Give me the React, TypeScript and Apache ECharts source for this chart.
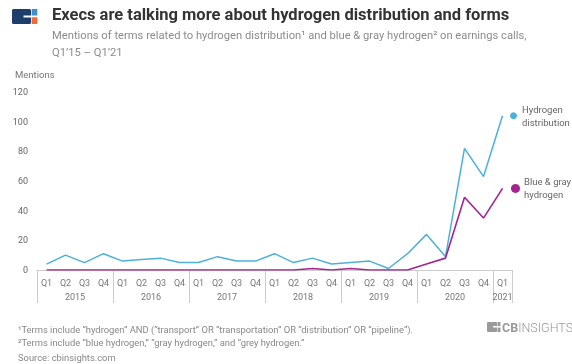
import React, { useEffect, useRef } from "react";
import * as echarts from "echarts";

const quarters = ["Q1","Q2","Q3","Q4","Q1","Q2","Q3","Q4","Q1","Q2","Q3","Q4","Q1","Q2","Q3","Q4","Q1","Q2","Q3","Q4","Q1","Q2","Q3","Q4","Q1"];
const years = ["2015","2015","2015","2015","2016","2016","2016","2016","2017","2017","2017","2017","2018","2018","2018","2018","2019","2019","2019","2019","2020","2020","2020","2020","2021"];
const hydrogenDistribution = [4,10,5,11, 6,7,8,5, 5,9,6,6, 11,5,8,4, 5,6,1,11, 24,9,82,63, 104];
const blueGrayHydrogen = [0,0,0,0, 0,0,0,0, 0,0,0,0, 0,0,1,0, 1,0,0,0, 4,8,49,35, 55];
const yTicks = { min: 0, max: 120, interval: 20 };

const BLUE = "#4cb1d9";
const MAGENTA = "#a3238f";
const FONT = "Roboto";

export default function App() {
  const ref = useRef<HTMLDivElement>(null);
  useEffect(() => {
    if (!ref.current) return;
    const chart = echarts.init(ref.current, null, { renderer: "svg" });
    const last = quarters.length - 1;
    chart.setOption({
      animation: false,
      textStyle: { fontFamily: FONT },
      title: {
        left: 52,
        top: 4,
        padding: 0,
        text: "Execs are talking more about hydrogen distribution and forms",
        textStyle: { fontSize: 16.5, fontWeight: "bold", color: "#333", lineHeight: 20, fontFamily: FONT },
        subtext: "Mentions of terms related to hydrogen distribution\u00b9 and blue & gray hydrogen\u00b2 on earnings calls,\nQ1\u201915 \u2013 Q1\u201921",
        subtextStyle: { fontSize: 11.2, color: "#8c8c8c", lineHeight: 17, fontFamily: FONT },
        itemGap: 2.5,
      },
      grid: { left: 37, right: 60, top: 92, bottom: 94 },
      xAxis: [
        {
          type: "category",
          data: quarters,
          boundaryGap: true,
          axisLine: { show: true, lineStyle: { color: "#cccccc", width: 1 } },
          axisTick: {
            show: true,
            interval: (i: number) => i % 4 === 0 || i === last,
            length: 33,
            lineStyle: { color: "#cccccc" },
          },
          axisLabel: { interval: 0, color: "#777", fontSize: 9, margin: 8 },
        },
        {
          type: "category",
          data: years,
          position: "bottom",
          boundaryGap: true,
          axisLine: { show: false },
          axisTick: { show: false },
          axisLabel: {
            interval: (i: number) => i % 4 === 1 || i === last,
            margin: 22,
            color: "#777",
            fontSize: 9,
            formatter: (v: string, i: number) => (i === last ? `{n|${v}}` : `{s|${v}}`),
            rich: {
              s: { padding: [0, 0, 0, 19], color: "#777", fontSize: 9 },
              n: { color: "#777", fontSize: 9 },
            },
          },
        },
      ],
      yAxis: {
        type: "value",
        min: yTicks.min,
        max: yTicks.max,
        interval: yTicks.interval,
        splitLine: { show: false },
        axisLine: { show: false },
        axisTick: { show: false },
        axisLabel: { color: "#666", fontSize: 9, margin: 9 },
      },
      series: [
        {
          name: "Hydrogen distribution",
          type: "line",
          data: hydrogenDistribution,
          symbol: "none",
          lineStyle: { color: BLUE, width: 1.5 },
          itemStyle: { color: BLUE },
          markPoint: {
            symbol: "circle",
            symbolSize: 7,
            symbolOffset: [11, 0],
            itemStyle: { color: BLUE },
            label: {
              show: true,
              position: "right",
              distance: 5,
              color: "#666",
              fontSize: 9.5,
              lineHeight: 13,
              formatter: "Hydrogen\ndistribution",
            },
            data: [{ coord: [last, hydrogenDistribution[last]] }],
          },
        },
        {
          name: "Blue & gray hydrogen",
          type: "line",
          data: blueGrayHydrogen,
          symbol: "none",
          lineStyle: { color: MAGENTA, width: 1.6 },
          itemStyle: { color: MAGENTA },
          markPoint: {
            symbol: "circle",
            symbolSize: 9,
            symbolOffset: [13, 0],
            itemStyle: { color: MAGENTA },
            label: {
              show: true,
              position: "right",
              distance: 4,
              color: "#666",
              fontSize: 9.5,
              lineHeight: 13,
              formatter: "Blue & gray\nhydrogen",
            },
            data: [{ coord: [last, blueGrayHydrogen[last]] }],
          },
        },
      ],
      graphic: [
        // top-left logo
        { type: "rect", shape: { x: 12, y: 9, width: 19, height: 15, r: 1.5 }, style: { fill: "#1d3d6b" } },
        { type: "rect", shape: { x: 23.5, y: 15.5, width: 8, height: 2 }, style: { fill: "#ffffff" } },
        { type: "rect", shape: { x: 31.7, y: 9, width: 5.6, height: 6.5 }, style: { fill: "#3d8fd1" } },
        { type: "rect", shape: { x: 31.7, y: 17.3, width: 5.6, height: 6.7 }, style: { fill: "#f26a35" } },
        // y axis title
        { type: "text", x: 15, y: 74, style: { text: "Mentions", fill: "#777", fontSize: 9.5, fontFamily: FONT, textVerticalAlign: "middle" } },
        // footnotes
        { type: "text", x: 18, y: 329, style: { text: "\u00b9Terms include \u201chydrogen\u201d AND (\u201ctransport\u201d OR \u201ctransportation\u201d OR \u201cdistribution\u201d OR \u201cpipeline\u201d).", fill: "#888", fontSize: 9.4, fontFamily: FONT, textVerticalAlign: "middle" } },
        { type: "text", x: 18, y: 342, style: { text: "\u00b2Terms include \u201cblue hydrogen,\u201d \u201cgray hydrogen,\u201d and \u201cgrey hydrogen.\u201d", fill: "#888", fontSize: 9.4, fontFamily: FONT, textVerticalAlign: "middle" } },
        { type: "text", x: 18, y: 357, style: { text: "Source: cbinsights.com", fill: "#888", fontSize: 9.4, fontFamily: FONT, textVerticalAlign: "middle" } },
        // CB Insights logo
        { type: "rect", shape: { x: 487, y: 322, width: 10, height: 10, r: 1 }, style: { fill: "#9a9a9a" } },
        { type: "rect", shape: { x: 493, y: 326, width: 4, height: 1.5 }, style: { fill: "#ffffff" } },
        { type: "rect", shape: { x: 497.5, y: 322, width: 3, height: 4.2 }, style: { fill: "#9a9a9a" } },
        { type: "rect", shape: { x: 497.5, y: 327.6, width: 3, height: 4.4 }, style: { fill: "#9a9a9a" } },
        {
          type: "text",
          x: 502,
          y: 327,
          style: {
            text: "{b|CB}{l|INSIGHTS}",
            textVerticalAlign: "middle",
            rich: {
              b: { fontSize: 12.5, fontWeight: "bold", fill: "#999", fontFamily: FONT },
              l: { fontSize: 12.5, fontWeight: 300, fill: "#999", fontFamily: FONT },
            },
          },
        },
      ],
    });
    return () => chart.dispose();
  }, []);
  return <div ref={ref} style={{ position: "fixed", left: 0, top: 0, width: 572, height: 364 }} />;
}
